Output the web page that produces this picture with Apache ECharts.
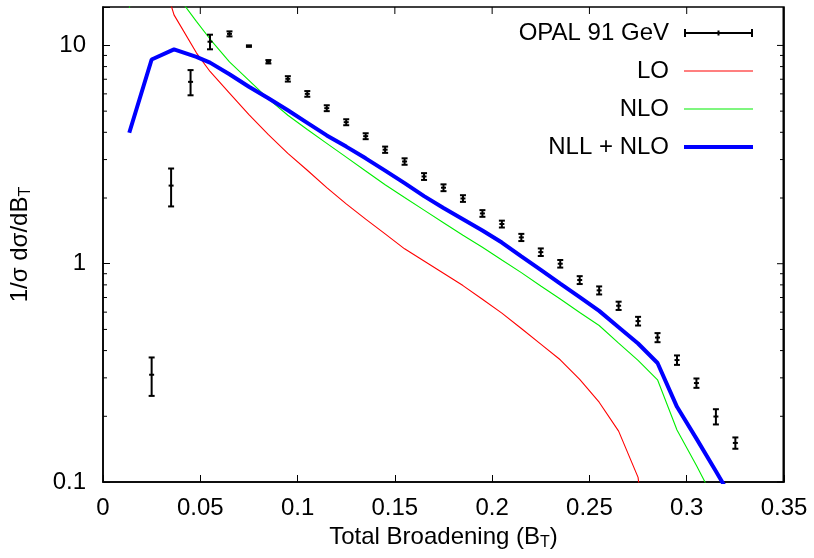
<!DOCTYPE html>
<html><head><meta charset="utf-8">
<script src="https://cdn.jsdelivr.net/npm/echarts@6/dist/echarts.min.js"></script>
<style>html,body{margin:0;padding:0;background:#fff}#c{width:814px;height:558px}</style>
</head><body><div id="c"></div>
<script>
// OPAL 91 GeV data (bin centres, values, errors)
const opalX = [0.025,0.035,0.045,0.055,0.065,0.075,0.085,0.095,0.105,0.115,0.125,0.135,0.145,0.155,0.165,0.175,0.185,0.195,0.205,0.215,0.225,0.235,0.245,0.255,0.265,0.275,0.285,0.295,0.305,0.315,0.325];
const opalY = [0.31,2.28,6.81,10.4,11.3,9.93,8.42,7.03,6.0,5.16,4.45,3.84,3.33,2.94,2.51,2.23,1.99,1.70,1.52,1.32,1.13,1.00,0.842,0.755,0.642,0.546,0.459,0.362,0.284,0.1995,0.151];
const opalErr = [0.062,0.45,0.9,0.8,0.3,0.08,0.15,0.2,0.18,0.16,0.14,0.12,0.11,0.1,0.09,0.08,0.07,0.06,0.055,0.05,0.045,0.04,0.035,0.032,0.028,0.025,0.022,0.018,0.014,0.016,0.009];

// theory curves
const curveX = [0.0135,0.025,0.0365,0.048,0.055,0.065,0.075,0.085,0.095,0.105,0.115,0.125,0.135,0.145,0.155,0.165,0.175,0.185,0.195,0.205,0.215,0.225,0.235,0.245,0.255,0.265,0.275,0.285,0.295,0.305,0.315,0.325];
const loY  = [80,30,13.8,9.25,7.6,6.05,4.82,3.9,3.2,2.68,2.23,1.88,1.60,1.37,1.17,1.03,0.904,0.794,0.687,0.594,0.505,0.428,0.363,0.295,0.232,0.171,0.105,0.02,null,null,null,null];
const nloY = [14.9,28,17.7,12.9,10.7,8.4,6.92,5.69,4.79,4.12,3.56,3.08,2.66,2.30,2.01,1.76,1.54,1.35,1.19,1.04,0.91,0.79,0.689,0.598,0.521,0.433,0.361,0.294,0.173,0.119,0.08,null];
const nllY = [3.98,8.62,9.59,8.87,8.34,7.38,6.47,5.73,5.05,4.42,3.87,3.44,3.04,2.67,2.34,2.04,1.80,1.60,1.42,1.25,1.08,0.937,0.811,0.703,0.608,0.512,0.431,0.351,0.221,0.158,0.112,0.079];

// axis ticks
const xMax = 0.35;
const yMajorLabels = [0.1,1,10];
const yMinorTicks = [0.2,0.3,0.4,0.5,0.6,0.7,0.8,0.9,2,3,4,5,6,7,8,9];
const xTickValues = [0.05,0.1,0.15,0.2,0.25,0.3];

const seriesNames = ['OPAL 91 GeV','LO','NLO','NLL + NLO'];

function pairs(xs, ys){ const out=[]; for(let i=0;i<xs.length;i++){ if(ys[i]!=null) out.push([xs[i],ys[i]]);} return out; }

const FONT = 'Liberation Sans, Arial, Helvetica, sans-serif';
const FS = 24;

const chart = echarts.init(document.getElementById('c'), null, {renderer:'canvas'});

function axisLine(){ return {show:true, onZero:false, lineStyle:{color:'#000', width:1.5}}; }
function tick(){ return {show:true, inside:true, length:7, lineStyle:{color:'#000', width:1}}; }
const TST = {stroke:'#000', lineWidth:1};

function frameSeries(name, data, draw){
  return {name:name, type:'custom', coordinateSystem:'cartesian2d', xAxisIndex:0, yAxisIndex:0,
    encode:{x:0, y:1}, silent:true, z:6, data:data,
    renderItem:function(params, api){ return draw(params.coordSys, api.coord([api.value(0), api.value(1)])); }};
}

chart.setOption({
  animation:false,
  backgroundColor:'#fff',
  textStyle:{fontFamily:FONT},
  grid:{left:101, right:30, top:7, bottom:76, containLabel:false, show:true, borderColor:'#000', borderWidth:1.5, backgroundColor:'transparent'},
  xAxis:[
    {type:'value', min:0, max:xMax, interval:0.05, position:'bottom', splitLine:{show:false},
      axisLine:axisLine(), axisTick:tick(),
      axisLabel:{show:true, margin:14, color:'#000', fontSize:FS, fontFamily:FONT},
      name:'Total Broadening (B{s|T})', nameLocation:'middle', nameGap:36,
      nameTextStyle:{color:'#000', fontSize:FS, fontFamily:FONT,
        rich:{s:{fontSize:16, padding:[12,0,0,0], color:'#000', fontFamily:FONT}}}}
  ],
  yAxis:[
    {type:'log', logBase:10, min:0.1, max:15, position:'left', splitLine:{show:false},
      axisLine:axisLine(), axisTick:tick(), minorTick:{show:false},
      axisLabel:{show:true, margin:17, color:'#000', fontSize:FS, fontFamily:FONT,
        formatter:function(v){ for(const m of yMajorLabels){ if(Math.abs(v-m)<1e-9*m) return String(m);} return ''; }},
      name:'1/σ dσ/dB{s|T}', nameLocation:'middle', nameGap:69,
      nameTextStyle:{color:'#000', fontSize:FS, fontFamily:FONT,
        rich:{s:{fontSize:16, padding:[12,0,0,0], color:'#000', fontFamily:FONT}}}}
  ],
  legend:{
    orient:'vertical', align:'right', right:61, top:21, padding:0, itemGap:14,
    itemWidth:69, itemHeight:14, selectedMode:false,
    textStyle:{color:'#000', fontSize:FS, fontFamily:FONT, padding:[0,10,0,0]},
    data:[
      {name:seriesNames[0], icon:'path://M0,0h2v8h-2z M0,3h69v2h-69z M33.5,1.5h2v5h-2z M67,0h2v8h-2z'},
      {name:seriesNames[1], icon:'path://M0,0h69v1.2h-69z'},
      {name:seriesNames[2], icon:'path://M0,0h69v1.2h-69z'},
      {name:seriesNames[3], icon:'path://M0,0h69v4h-69z'}
    ]
  },
  series:[
    {
      name:seriesNames[0], type:'custom', coordinateSystem:'cartesian2d', xAxisIndex:0, yAxisIndex:0,
      itemStyle:{color:'#000'}, clip:true, z:5,
      encode:{x:0, y:1},
      data: opalX.map((x,i)=>[x, opalY[i], opalErr[i]]),
      renderItem:function(params, api){
        const x=api.value(0), y=api.value(1), e=api.value(2);
        const c=api.coord([x,y]); const lo=api.coord([x,y-e]); const hi=api.coord([x,y+e]);
        const w=3, st={stroke:'#000', lineWidth:2};
        return {type:'group', children:[
          {type:'line', shape:{x1:c[0],y1:lo[1],x2:c[0],y2:hi[1]}, style:st},
          {type:'line', shape:{x1:c[0]-w,y1:lo[1],x2:c[0]+w,y2:lo[1]}, style:st},
          {type:'line', shape:{x1:c[0]-w,y1:hi[1],x2:c[0]+w,y2:hi[1]}, style:st},
          {type:'line', shape:{x1:c[0]-2.5,y1:c[1],x2:c[0]+2.5,y2:c[1]}, style:st}
        ]};
      }
    },
    {name:seriesNames[1], type:'line', data:pairs(curveX, loY), symbol:'none', clip:true, z:3,
      lineStyle:{color:'#ff0000', width:1.1}, itemStyle:{color:'#ff0000'}},
    {name:seriesNames[2], type:'line', data:pairs(curveX, nloY), symbol:'none', clip:true, z:3,
      lineStyle:{color:'#00ee00', width:1.1}, itemStyle:{color:'#00ee00'}},
    {name:seriesNames[3], type:'line', data:pairs(curveX, nllY), symbol:'none', clip:true, z:4,
      lineStyle:{color:'#0000ff', width:4}, itemStyle:{color:'#0000ff'}},
    frameSeries('yMinorTicks', yMinorTicks.map(v=>[0.1, v]), function(cs, p){
      return {type:'group', children:[
        {type:'line', shape:{x1:cs.x, y1:p[1], x2:cs.x+4, y2:p[1]}, style:TST},
        {type:'line', shape:{x1:cs.x+cs.width-4, y1:p[1], x2:cs.x+cs.width, y2:p[1]}, style:TST}
      ]};
    }),
    frameSeries('yMajorRight', yMajorLabels.map(v=>[0.1, v]), function(cs, p){
      return {type:'line', shape:{x1:cs.x+cs.width-7, y1:p[1], x2:cs.x+cs.width, y2:p[1]}, style:TST};
    }),
    frameSeries('xTop', xTickValues.map(v=>[v, 1]), function(cs, p){
      return {type:'line', shape:{x1:p[0], y1:cs.y, x2:p[0], y2:cs.y+7}, style:TST};
    }),
    frameSeries('rightEdge', [[xMax, 1]], function(cs, p){
      return {type:'line', shape:{x1:p[0]-0.5, y1:cs.y, x2:p[0]-0.5, y2:cs.y+cs.height}, style:{stroke:'#000', lineWidth:2}};
    })
  ]
});
</script></body></html>
